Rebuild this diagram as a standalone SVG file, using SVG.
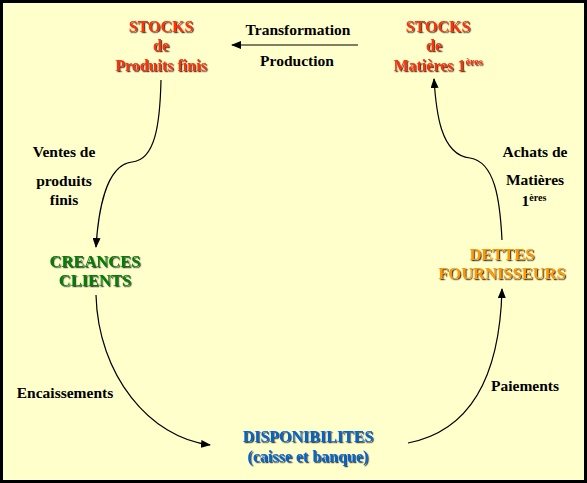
<svg xmlns="http://www.w3.org/2000/svg" width="587" height="483" viewBox="0 0 587 483">
<defs>
<filter id="sh" x="-10%" y="-10%" width="120%" height="130%">
<feDropShadow dx="1.2" dy="1.2" stdDeviation="0.3" flood-color="#333" flood-opacity="0.9"/>
</filter>
<marker id="ah" markerWidth="10" markerHeight="8" refX="9" refY="4" orient="auto" markerUnits="userSpaceOnUse">
<path d="M0,0 L10,4 L0,8 Z" fill="#000"/>
</marker>
<style>
text{font-family:"Liberation Serif","Times New Roman",serif;font-weight:bold;text-anchor:middle}
.lbl{font-size:15.5px;fill:#000}
.red{font-size:16px;fill:#FF3300;filter:url(#sh)}
.grn{font-size:16.5px;fill:#008000;filter:url(#sh)}
.org{font-size:16.5px;fill:#FF9900;filter:url(#sh)}
.blu{font-size:16px;fill:#0066CC;filter:url(#sh)}
.sup{font-size:10px}
.c{fill:none;stroke:#000;stroke-width:1.2;marker-end:url(#ah)}
</style>
</defs>
<rect x="1.5" y="1.5" width="584" height="480" fill="#FFFFCC" stroke="#000" stroke-width="3"/>
<g id="connectors">
<path class="c" d="M358,45 L232,45"/>
<path class="c" d="M161,80 C160,125 155,160 132,162 C105,165 98,215 96,247"/>
<path class="c" d="M502,240 C500,200 495,162 470,158 C440,155 436,110 434,79"/>
<path class="c" d="M96,295 C98,375 150,438 210,445"/>
<path class="c" d="M408,443 C475,430 500,370 502,289"/>
</g>
<g id="stocks-pf">
<text class="red" x="161" y="32">STOCKS</text>
<text class="red" x="161" y="51">de</text>
<text class="red" x="161" y="71">Produits finis</text>
</g>
<g id="stocks-mp">
<text class="red" x="438" y="32">STOCKS</text>
<text class="red" x="434" y="51">de</text>
<text class="red" x="438" y="71">Matières 1<tspan class="sup" dy="-6">ères</tspan></text>
</g>
<g id="transformation">
<text class="lbl" x="298" y="35">Transformation</text>
<text class="lbl" x="297" y="66">Production</text>
</g>
<g id="ventes">
<text class="lbl" x="64" y="157">Ventes de</text>
<text class="lbl" x="64" y="186">produits</text>
<text class="lbl" x="64" y="205">finis</text>
</g>
<g id="creances">
<text class="grn" x="95" y="267">CREANCES</text>
<text class="grn" x="95" y="286">CLIENTS</text>
</g>
<g id="dettes">
<text class="org" x="502" y="260">DETTES</text>
<text class="org" x="502" y="279">FOURNISSEURS</text>
</g>
<g id="achats">
<text class="lbl" x="535" y="157">Achats de</text>
<text class="lbl" x="535" y="185">Matières</text>
<text class="lbl" x="534" y="206">1<tspan class="sup" dy="-5">ères</tspan></text>
</g>
<g id="encaissements">
<text class="lbl" x="65" y="398">Encaissements</text>
</g>
<g id="paiements">
<text class="lbl" x="525" y="391">Paiements</text>
</g>
<g id="disponibilites">
<text class="blu" x="308" y="442">DISPONIBILITES</text>
<text class="blu" x="308" y="462">(caisse et banque)</text>
</g>
</svg>
